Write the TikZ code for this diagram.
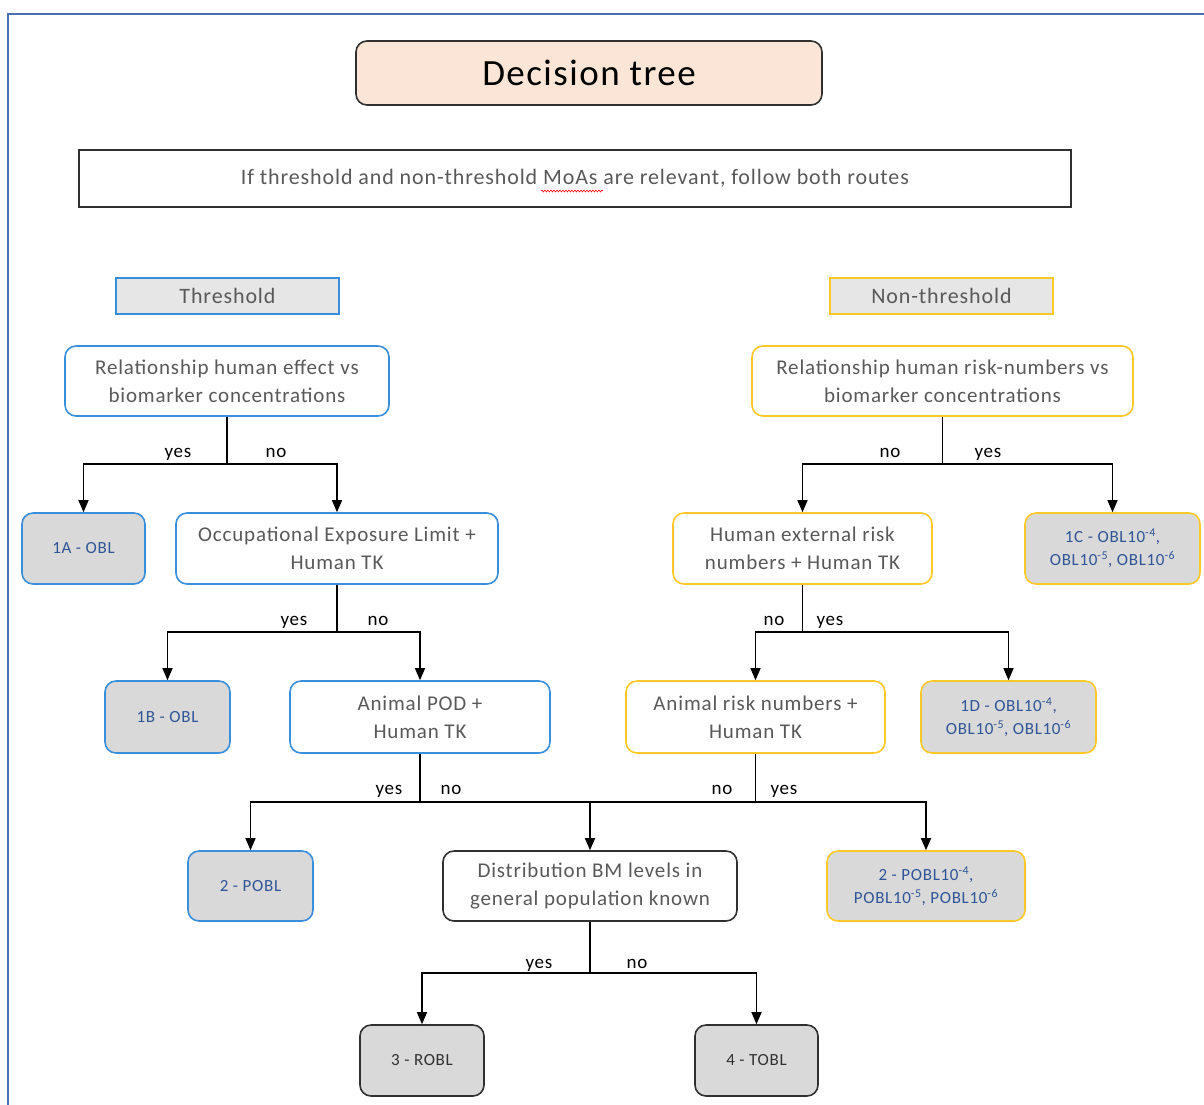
\documentclass[tikz,border=0pt]{standalone}
\usepackage{fontspec}
\setmainfont{Carlito}[LetterSpace=4]
\usetikzlibrary{arrows.meta,decorations.pathmorphing}
\definecolor{txtgray}{HTML}{595959}
\definecolor{resblue}{HTML}{2F5597}
\definecolor{bblue}{HTML}{3A8FDC}
\definecolor{byel}{HTML}{FFC827}
\definecolor{peach}{HTML}{FBE5D6}
\definecolor{lgray}{HTML}{D9D9D9}
\definecolor{hgray}{HTML}{E6E6E6}
\definecolor{frame}{HTML}{4A6FB5}
\definecolor{dark}{HTML}{303030}
\tikzset{
  qbox/.style={draw, line width=1.6pt, rounded corners=11pt, fill=white, text=txtgray,
    align=center, inner sep=0pt, font=\fontsize{21}{28}\selectfont},
  rbox/.style={draw, line width=1.6pt, rounded corners=11pt, fill=lgray, text=resblue,
    align=center, inner sep=0pt, font=\fontsize{17}{23}\selectfont},
  hdr/.style={draw, line width=1.6pt, fill=hgray, text=txtgray, inner sep=0pt,
    minimum width=223pt, minimum height=36pt, font=\fontsize{22}{25}\selectfont},
  arr/.style={-{Triangle[width=10pt,length=12pt]}, line width=1.3pt, draw=black},
  ln/.style={line width=1.3pt, draw=black},
  lab/.style={font=\fontsize{19}{20}\selectfont, text=black, inner sep=0pt, anchor=base}
}
\begin{document}
\begin{tikzpicture}[x=1pt,y=-1pt]
\useasboundingbox (0,0) rectangle (1204,1104);
% frame
\draw[frame, line width=1.5pt] (8,1110) -- (8,14) -- (1210,14);
% title
\node[draw=dark, line width=1.6pt, fill=peach, rounded corners=11pt, minimum width=466pt, minimum height=64pt,
  inner sep=0pt, font=\fontsize{37}{40}\selectfont] (title) at (589,73) {Decision tree};
\node[draw=dark, line width=1.6pt, minimum width=992pt, minimum height=57pt, inner sep=0pt, text=txtgray,
  font=\fontsize{22}{25}\selectfont] (note) at (575,178.5) {If threshold and non-threshold MoAs are relevant, follow both routes};
\draw[red, line width=0.6pt, decorate, decoration={snake, amplitude=0.9pt, segment length=3pt}] (541,191) -- (603,191);
% headers
\node[hdr, draw=bblue] (th) at (227.5,296) {Threshold};
\node[hdr, draw=byel] (nth) at (941.5,296) {Non-threshold};
% threshold branch
\node[qbox, draw=bblue, minimum width=324pt, minimum height=70pt] (r1) at (227,381) {Relationship human effect vs\\biomarker concentrations};
\node[rbox, draw=bblue, minimum width=123pt, minimum height=71pt] (a1) at (83.5,548.5) {1A - OBL};
\node[qbox, draw=bblue, minimum width=322pt, minimum height=71pt] (oel) at (337,548.5) {Occupational Exposure Limit +\\Human TK};
\node[rbox, draw=bblue, minimum width=125pt, minimum height=72pt] (b1) at (167.5,717) {1B - OBL};
\node[qbox, draw=bblue, minimum width=260pt, minimum height=72pt] (pod) at (420,717) {Animal POD +\\Human TK};
\node[rbox, draw=bblue, minimum width=125pt, minimum height=70pt] (p2) at (250.5,886) {2 - POBL};
% central
\node[qbox, draw=dark, minimum width=294pt, minimum height=70pt] (dist) at (590,886) {Distribution BM levels in\\general population known};
\node[rbox, draw=dark, text=dark, minimum width=124pt, minimum height=71pt] (r3) at (422,1060.5) {3 - ROBL};
\node[rbox, draw=dark, text=dark, minimum width=123pt, minimum height=71pt] (t4) at (756.5,1060.5) {4 - TOBL};
% non-threshold branch
\node[qbox, draw=byel, minimum width=381pt, minimum height=70pt] (r2) at (942.5,381) {Relationship human risk-numbers vs\\biomarker concentrations};
\node[qbox, draw=byel, minimum width=259pt, minimum height=71pt] (he) at (802.5,548.5) {Human external risk\\numbers + Human TK};
\node[rbox, draw=byel, minimum width=175pt, minimum height=71pt] (c1) at (1112.5,548.5) {1C - OBL10\textsuperscript{-4},\\OBL10\textsuperscript{-5}, OBL10\textsuperscript{-6}};
\node[qbox, draw=byel, minimum width=259pt, minimum height=72pt] (ar) at (755.5,717) {Animal risk numbers +\\Human TK};
\node[rbox, draw=byel, minimum width=175pt, minimum height=72pt] (d1) at (1008.5,717) {1D - OBL10\textsuperscript{-4},\\OBL10\textsuperscript{-5}, OBL10\textsuperscript{-6}};
\node[rbox, draw=byel, minimum width=198pt, minimum height=70pt] (p2b) at (926,886) {2 - POBL10\textsuperscript{-4},\\POBL10\textsuperscript{-5}, POBL10\textsuperscript{-6}};
% junctions
\coordinate (j1) at (227,464);
\coordinate (j2) at (337,632);
\coordinate (j3) at (420,802);
\coordinate (j4) at (942.5,464);
\coordinate (j5) at (802.5,632);
\coordinate (j6) at (755.5,802);
\coordinate (j7) at (590,973);
\coordinate (jm) at (590,802);
% connectors
\draw[ln] (r1.south) -- (j1);
\draw[arr] (j1) -| (a1.north);
\draw[arr] (j1) -| (oel.north);
\draw[ln] (oel.south) -- (j2);
\draw[arr] (j2) -| (b1.north);
\draw[arr] (j2) -| (pod.north);
\draw[ln] (pod.south) -- (j3);
\draw[arr] (j3) -| (p2.north);
\draw[ln] (j3) -- (jm);
\draw[ln] (r2.south) -- (j4);
\draw[arr] (j4) -| (he.north);
\draw[arr] (j4) -| (c1.north);
\draw[ln] (he.south) -- (j5);
\draw[arr] (j5) -| (ar.north);
\draw[arr] (j5) -| (d1.north);
\draw[ln] (ar.south) -- (j6);
\draw[arr] (j6) -| (p2b.north);
\draw[ln] (j6) -- (jm);
\draw[arr] (jm) -- (dist.north);
\draw[ln] (dist.south) -- (j7);
\draw[arr] (j7) -| (r3.north);
\draw[arr] (j7) -| (t4.north);
% labels
\node[lab] (l1) at (178,457) {yes};
\node[lab] (l2) at (276,457) {no};
\node[lab] (l3) at (294,625) {yes};
\node[lab] (l4) at (378,625) {no};
\node[lab] (l5) at (389,794) {yes};
\node[lab] (l6) at (451,794) {no};
\node[lab] (l7) at (890,457) {no};
\node[lab] (l8) at (988,457) {yes};
\node[lab] (l9) at (774,625) {no};
\node[lab] (l10) at (830,625) {yes};
\node[lab] (l11) at (722,794) {no};
\node[lab] (l12) at (784,794) {yes};
\node[lab] (l13) at (539,968) {yes};
\node[lab] (l14) at (637,968) {no};
\end{tikzpicture}
\end{document}
